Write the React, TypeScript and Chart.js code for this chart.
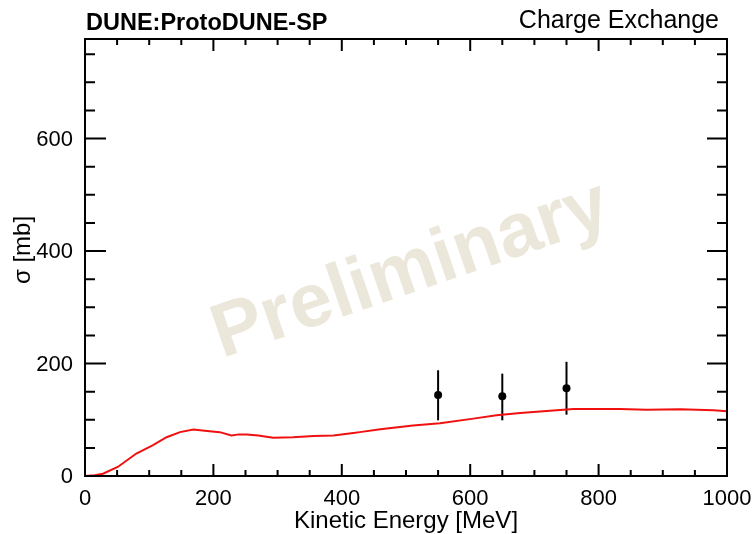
import React, { useEffect, useRef } from "react";
import { Chart, registerables } from "chart.js";

Chart.register(...registerables);

// Prediction curve (kinetic energy in MeV, cross section in mb)
const energyMeV = [0, 15, 28, 51, 80, 106, 127, 148, 169, 190, 210, 228, 240, 252, 270, 293, 324, 356, 387, 418, 428, 460, 511, 553, 605, 641, 678, 719, 761, 797, 833, 875, 927, 979, 1000];
const sigmaPred = [0, 1.5, 4, 16, 40, 55, 69, 78, 82.6, 80, 78, 72, 74, 73.6, 72, 68, 69, 71, 72, 76.5, 78, 83, 90, 94, 102, 108, 112, 115.7, 119, 119, 119, 118, 118.5, 117, 115];

// Measured points
const dataEnergy = [550, 650, 750];
const dataSigma = [144, 142, 156];
const dataErrLow = [45, 43, 47];
const dataErrHigh = [44, 40, 47];

// Axes
const xMajorTicks = [0, 200, 400, 600, 800, 1000];
const xTickLabels = ["0", "200", "400", "600", "800", "1000"];
const yMajorTicks = [0, 200, 400, 600];
const yTickLabels = ["0", "200", "400", "600"];
const xMinorTicks = [50, 100, 150, 250, 300, 350, 450, 500, 550, 650, 700, 750, 850, 900, 950];
const yMinorTicks = [50, 100, 150, 250, 300, 350, 450, 500, 550, 650, 700, 750];
const X_MIN = 0;
const X_MAX = 1000;
const Y_MIN = 0;
const Y_MAX = 777;

const titleLeft = "DUNE:ProtoDUNE-SP";
const titleRight = "Charge Exchange";
const xTitle = "Kinetic Energy [MeV]";
const yTitle = "σ [mb]";
const watermark = "Preliminary";

const FONT = "'Liberation Sans', Arial, Helvetica, sans-serif";

const rootStyle = {
  id: "rootStyle",
  beforeDatasetsDraw(chart: any) {
    const ctx = chart.ctx;
    const xs = chart.scales.x;
    const ys = chart.scales.y;
    // watermark
    ctx.save();
    ctx.translate(411, 271);
    ctx.rotate((-19 * Math.PI) / 180);
    ctx.fillStyle = "#ebe7da";
    ctx.font = `bold 76px ${FONT}`;
    ctx.textAlign = "center";
    ctx.textBaseline = "middle";
    ctx.fillText(watermark, 0, 0);
    ctx.restore();
    // error bars
    ctx.save();
    ctx.strokeStyle = "#000";
    ctx.lineWidth = 2;
    dataEnergy.forEach((e, i) => {
      const px = xs.getPixelForValue(e);
      const top = ys.getPixelForValue(dataSigma[i] + dataErrHigh[i]);
      const bot = ys.getPixelForValue(dataSigma[i] - dataErrLow[i]);
      ctx.beginPath();
      ctx.moveTo(px, top);
      ctx.lineTo(px, bot);
      ctx.stroke();
    });
    ctx.restore();
  },
  afterDatasetsDraw(chart: any) {
    const ctx = chart.ctx;
    const a = chart.chartArea;
    const xs = chart.scales.x;
    const ys = chart.scales.y;
    ctx.save();
    ctx.strokeStyle = "#000";
    ctx.lineWidth = 2;
    ctx.strokeRect(a.left, a.top, a.right - a.left, a.bottom - a.top);
    ctx.beginPath();
    const xt = (v: number, len: number) => {
      const p = xs.getPixelForValue(v);
      ctx.moveTo(p, a.bottom);
      ctx.lineTo(p, a.bottom - len);
      ctx.moveTo(p, a.top);
      ctx.lineTo(p, a.top + len);
    };
    xMajorTicks.forEach((v) => xt(v, 12));
    xMinorTicks.forEach((v) => xt(v, 6));
    const yt = (v: number, lenL: number, lenR: number) => {
      const p = ys.getPixelForValue(v);
      ctx.moveTo(a.left, p);
      ctx.lineTo(a.left + lenL, p);
      ctx.moveTo(a.right, p);
      ctx.lineTo(a.right - lenR, p);
    };
    yMajorTicks.forEach((v) => yt(v, 21, 20));
    yMinorTicks.forEach((v) => yt(v, 10, 10));
    ctx.stroke();
    ctx.restore();
  },
  afterDraw(chart: any) {
    const ctx = chart.ctx;
    const a = chart.chartArea;
    const xs = chart.scales.x;
    const ys = chart.scales.y;
    ctx.save();
    ctx.fillStyle = "#000";
    ctx.font = `22px ${FONT}`;
    ctx.textAlign = "center";
    ctx.textBaseline = "alphabetic";
    xMajorTicks.forEach((v, i) => {
      ctx.fillText(xTickLabels[i], xs.getPixelForValue(v), 505);
    });
    ctx.textAlign = "right";
    ctx.textBaseline = "middle";
    yMajorTicks.forEach((v, i) => {
      ctx.fillText(yTickLabels[i], 73, ys.getPixelForValue(v) + 1);
    });
    // axis titles
    ctx.font = `24px ${FONT}`;
    ctx.textAlign = "center";
    ctx.textBaseline = "alphabetic";
    ctx.fillText(xTitle, (a.left + a.right) / 2, 528);
    ctx.save();
    ctx.translate(30, 250);
    ctx.rotate(-Math.PI / 2);
    ctx.fillText(yTitle, 0, 0);
    ctx.restore();
    // header
    ctx.font = `bold 23.5px ${FONT}`;
    ctx.textAlign = "left";
    ctx.fillText(titleLeft, 86, 30);
    ctx.font = `25px ${FONT}`;
    ctx.textAlign = "right";
    ctx.fillText(titleRight, 719, 28);
    ctx.restore();
  },
};

export default function App() {
  const canvasRef = useRef<HTMLCanvasElement | null>(null);

  useEffect(() => {
    if (!canvasRef.current) return;
    const chart = new Chart(canvasRef.current, {
      type: "scatter",
      data: {
        datasets: [
          {
            data: energyMeV.map((x, i) => ({ x, y: sigmaPred[i] })),
            showLine: true,
            borderColor: "#f01010",
            borderWidth: 2,
            pointRadius: 0,
            fill: false,
            tension: 0,
          },
          {
            data: dataEnergy.map((x, i) => ({ x, y: dataSigma[i] })),
            showLine: false,
            pointRadius: 4,
            pointBackgroundColor: "#000",
            pointBorderColor: "#000",
            pointBorderWidth: 0,
          },
        ],
      },
      options: {
        responsive: false,
        animation: false,
        events: [],
        layout: { padding: { left: 85, right: 27, top: 39, bottom: 58 } },
        scales: {
          x: { type: "linear", min: X_MIN, max: X_MAX, display: false },
          y: { type: "linear", min: Y_MIN, max: Y_MAX, display: false },
        },
        plugins: { legend: { display: false }, tooltip: { enabled: false } },
      },
      plugins: [rootStyle],
    } as any);
    return () => chart.destroy();
  }, []);

  return (
    <div style={{ position: "fixed", left: 0, top: 0, width: 754, height: 534, background: "#fff" }}>
      <canvas ref={canvasRef} width={754} height={534} />
    </div>
  );
}
